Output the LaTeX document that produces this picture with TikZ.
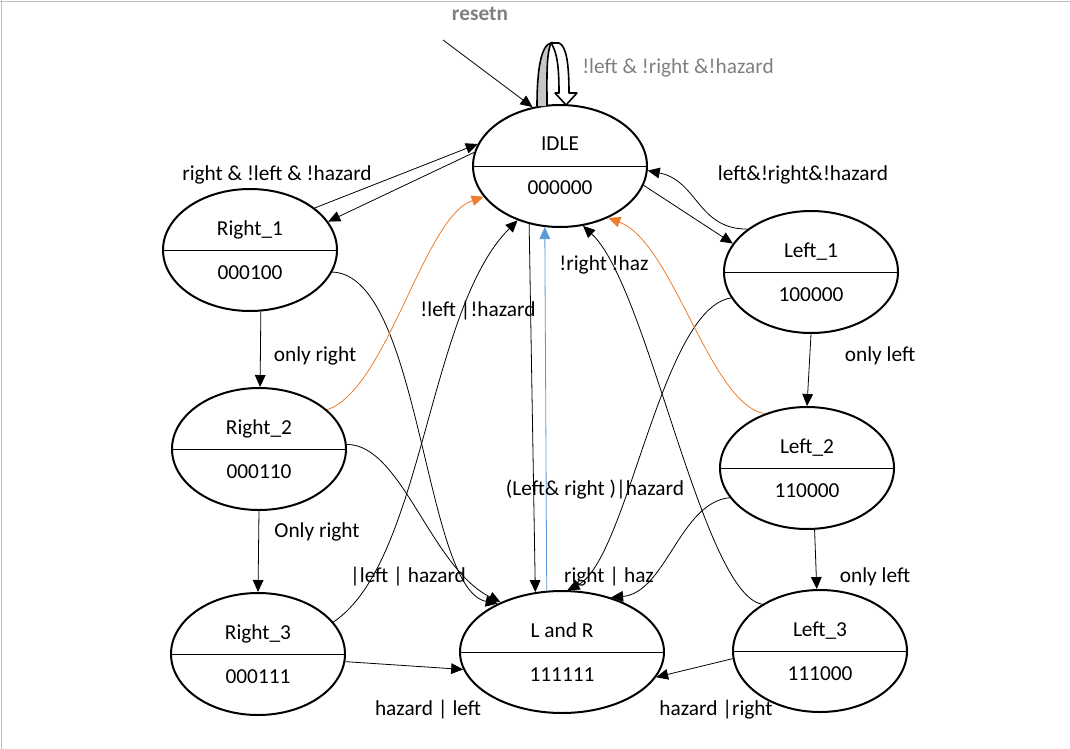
\documentclass[tikz,border=0pt]{standalone}
\usepackage{fontspec}
\setmainfont{Carlito}
\usetikzlibrary{shapes.geometric,arrows.meta}

\definecolor{wordorange}{HTML}{ED7D31}
\definecolor{wordblue}{HTML}{5B9BD5}
\definecolor{wordgray}{HTML}{7F7F7F}

\tikzset{%
        every state/.style={
            ellipse,
            draw,
            line width=1.5pt,
            minimum width=130.5pt,
            minimum height=91.5pt,
            inner sep=0pt,
            align=center,
            font=\fontsize{16}{33}\selectfont,
            path picture={\draw[line width=0.6pt] (path picture bounding box.west) -- (path picture bounding box.east);}
        },
        state landr/.style={
            minimum width=153pt
        },
        arc label/.style={
            inner sep=0pt,
            font=\fontsize{16}{19}\selectfont
        },
        trans/.style={
            ->,
            line width=0.6pt
        },
    }

\begin{document}
\begin{tikzpicture}[x=0.75pt, y=-0.75pt, >={Triangle[length=9pt,width=8pt]}]

        \useasboundingbox (0,0) rectangle (1070,749);
        \draw [black!25, line width=1pt] (0,1.5) -- (1070,1.5) (1.5,0) -- (1.5,749);

        \foreach \sname/\spos/\stext in {idle/{(560,166)}/{IDLE\\000000},
            right1/{(250,250)}/{Right\_1\\000100}, right2/{(259,449)}/{Right\_2\\000110},
            right3/{(258,654)}/{Right\_3\\000111}, landr/{(562,652)}/{L and R\\111111},
            left1/{(811,272)}/{Left\_1\\100000}, left2/{(807,468)}/{Left\_2\\110000},
            left3/{(820,651)}/{Left\_3\\111000}}
        \node [every state/.try, state \sname/.try] (\sname) at \spos {\stext};

        % reset and idle loop
        \coordinate (reset in) at (443,40);
        \draw [trans] (reset in) -- (idle.115);
        \node [arc label, wordgray, font=\bfseries\fontsize{16}{19}\selectfont] (reset label) at (480,14) {resetn};
        \filldraw [fill=black!22, line width=1.2pt] (537,106) .. controls (537,70) and (541,45) .. (551,43)
            .. controls (546,55) and (547,80) .. (547,106);
        \filldraw [fill=white, line width=1.2pt, line join=round] (551,43) -- (559,43)
            .. controls (566,46) and (569,62) .. (569,93) -- (577,93) -- (566,105) -- (555,93) -- (559,93)
            .. controls (559,66) and (557,52) .. (551,43) -- cycle;
        \node [arc label, wordgray] (loop label) at (678,68) {!left \& !right \&!hazard};

        \foreach \from/\to in {right1.33/idle.165, idle.171/right1.20, idle.-13/left1.160,
            right1.-80/right2.89, right2.south/right3.north, left1.south/left2.north,
            left2.-83/left3.93, right3.-5/landr.190, left3.185/landr.-15, idle.-118/landr.114}
        \draw [trans] (\from) -- (\to);

        \draw [trans, wordblue] (landr.104) -- (idle.-104);

        \draw [trans] (left1.146) .. controls +(-50,0) and +(50,10) .. (idle.-3);
        \draw [trans] (right1.-15) .. controls +(89,3) and +(-74,-14) .. (landr.143);
        \draw [trans] (right2.3) .. controls +(55,0) and +(-70,-35) .. (landr.141);
        \draw [trans] (right3.23) .. controls +(90,-60) and +(-90,90) .. (idle.-128);
        \draw [trans] (left1.198) .. controls +(-70,10) and +(60,-30) .. (landr.85);
        \draw [trans] (left2.201) .. controls +(-50,5) and +(55,-5) .. (landr.48);
        \draw [trans] (left3.141) .. controls +(-60,-10) and +(65,60) .. (idle.-69);
        \draw [trans, wordorange] (right2.30) .. controls +(60,-20) and +(-60,20) .. (idle.202);
        \draw [trans, wordorange] (left2.128) .. controls +(-55,-10) and +(65,25) .. (idle.-47);

        \foreach \lpos/\ltext [count=\i] in {{(277,175)}/{right \& !left \& !hazard},
            {(803,175)}/{left\&!right\&!hazard}, {(315,356)}/{only right}, {(317,532)}/{Only right},
            {(880,356)}/{only left}, {(875,577)}/{only left}, {(478,311)}/{!left |!hazard},
            {(604,265)}/{!right !haz}, {(595,490)}/{(Left\& right )|hazard},
            {(408,577)}/{|left | hazard}, {(609,577)}/{right | haz},
            {(428,710)}/{hazard | left}, {(716,710)}/{hazard |right}}
        \node [arc label] (label-\i) at \lpos {\ltext};
    \end{tikzpicture}
\end{document}
